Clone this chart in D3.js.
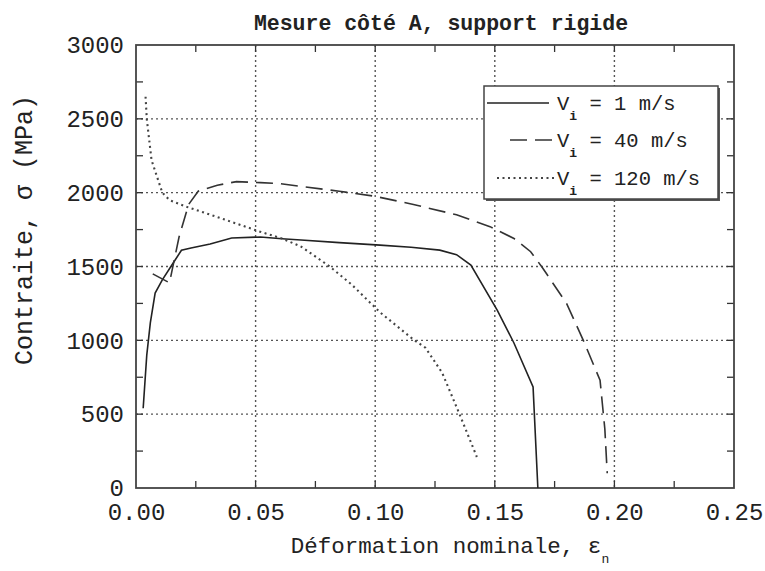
<!DOCTYPE html>
<html>
<head>
<meta charset="utf-8">
<script src="https://cdn.jsdelivr.net/npm/d3@7"></script>
<style>
  body { margin: 0; background: #fff; }
  text { font-family: "Liberation Mono", "Courier New", monospace; fill: #222; }
</style>
</head>
<body>
<div id="main"></div>
<script>
// strain (nominal) / stress (MPa)
var v1 = [[0.003, 540], [0.0045, 900], [0.006, 1120], [0.008, 1320], [0.011, 1410], [0.015, 1510],
          [0.019, 1610], [0.023, 1625], [0.031, 1652], [0.040, 1693], [0.052, 1700], [0.061, 1688],
          [0.069, 1679], [0.085, 1662], [0.102, 1645], [0.115, 1630], [0.127, 1611], [0.134, 1580],
          [0.140, 1510], [0.151, 1205], [0.158, 982], [0.166, 684], [0.168, 0]];
var v40 = [[0.007, 1450], [0.014, 1390], [0.018, 1700], [0.022, 1920], [0.026, 2010], [0.034, 2050],
           [0.042, 2075], [0.052, 2068], [0.060, 2062], [0.070, 2040], [0.085, 2010], [0.100, 1975],
           [0.116, 1920], [0.134, 1850], [0.148, 1770], [0.158, 1690], [0.165, 1600], [0.170, 1490],
           [0.180, 1250], [0.187, 1000], [0.194, 730], [0.196, 400], [0.197, 100]];
var v120 = [[0.004, 2650], [0.0045, 2500], [0.0065, 2220], [0.011, 2000], [0.014, 1950], [0.021, 1905],
            [0.034, 1835], [0.052, 1735], [0.061, 1690], [0.069, 1635], [0.081, 1500], [0.090, 1380],
            [0.102, 1190], [0.116, 1005], [0.121, 950], [0.128, 780], [0.135, 510], [0.1425, 210]];

var xTicks = [0, 0.05, 0.10, 0.15, 0.20, 0.25];
var xMinor = [0.025, 0.075, 0.125, 0.175, 0.225];
var yTicks = [0, 500, 1000, 1500, 2000, 2500, 3000];
var yMinor = [250, 750, 1250, 1750, 2250, 2750];
var speeds = ["1", "40", "120"];

var margin = {top: 45, right: 31, bottom: 83, left: 136},
    width = 765 - margin.left - margin.right,
    height = 571 - margin.top - margin.bottom;

var svg = d3.select("#main")
    .append("svg")
    .attr("width", 765)
    .attr("height", 571);

var g = svg.append("g")
    .attr("transform", "translate(" + margin.left + "," + margin.top + ")");

var x = d3.scaleLinear().domain([0, 0.25]).range([0, width]);
var y = d3.scaleLinear().domain([0, 3000]).range([height, 0]);

// dotted grid
g.selectAll("line.gx")
    .data(xTicks.slice(1, -1))
    .enter().append("line")
    .attr("class", "gx")
    .attr("x1", function(d) { return x(d); })
    .attr("x2", function(d) { return x(d); })
    .attr("y1", 0).attr("y2", height)
    .attr("stroke", "#555").attr("stroke-width", 1.4)
    .attr("stroke-dasharray", "2,3");

g.selectAll("line.gy")
    .data(yTicks.slice(1, -1))
    .enter().append("line")
    .attr("class", "gy")
    .attr("y1", function(d) { return y(d); })
    .attr("y2", function(d) { return y(d); })
    .attr("x1", 0).attr("x2", width)
    .attr("stroke", "#555").attr("stroke-width", 1.4)
    .attr("stroke-dasharray", "2,3");

// axes, ticks inward on all sides
var allX = xTicks.concat(xMinor), allY = yTicks.concat(yMinor);

g.append("g")
    .attr("transform", "translate(0," + height + ")")
    .call(d3.axisBottom(x).tickValues(xTicks).tickSize(0).tickPadding(15)
        .tickFormat(d3.format(".2f")));
g.append("g")
    .call(d3.axisLeft(y).tickValues(yTicks).tickSize(0).tickPadding(12)
        .tickFormat(d3.format("d")));

g.selectAll(".tick text")
    .style("font-size", "24px")
    .style("font-family", "'Liberation Mono', monospace")
    .attr("fill", "#222");
g.selectAll(".domain").remove();

var tl = 7;
[[allX, "b"], [allX, "t"], [allY, "l"], [allY, "r"]].forEach(function(s) {
    g.selectAll("line.t" + s[1])
        .data(s[0].filter(function(d) { return d > 0 && d < (s[1] == "b" || s[1] == "t" ? 0.25 : 3000); }))
        .enter().append("line")
        .attr("class", "t" + s[1])
        .attr("stroke", "#333").attr("stroke-width", 1.3)
        .each(function(d) {
            var l = d3.select(this);
            if (s[1] == "b") l.attr("x1", x(d)).attr("x2", x(d)).attr("y1", height).attr("y2", height - tl);
            if (s[1] == "t") l.attr("x1", x(d)).attr("x2", x(d)).attr("y1", 0).attr("y2", tl);
            if (s[1] == "l") l.attr("y1", y(d)).attr("y2", y(d)).attr("x1", 0).attr("x2", tl);
            if (s[1] == "r") l.attr("y1", y(d)).attr("y2", y(d)).attr("x1", width).attr("x2", width - tl);
        });
});

g.append("rect")
    .attr("width", width).attr("height", height)
    .attr("fill", "none").attr("stroke", "#444").attr("stroke-width", 1.8);

// curves
var line = d3.line()
    .x(function(d) { return x(d[0]); })
    .y(function(d) { return y(d[1]); });

var styles = [
    {data: v1, dash: null, w: 1.6, c: "#222"},
    {data: v40, dash: "17,8", w: 1.6, c: "#333"},
    {data: v120, dash: "2,3.5", w: 2.1, c: "#444"}
];

styles.forEach(function(s) {
    g.append("path")
        .datum(s.data)
        .attr("d", line)
        .attr("fill", "none")
        .attr("stroke", s.c)
        .attr("stroke-width", s.w)
        .attr("stroke-dasharray", s.dash);
});

// legend
var lx = 484, ly = 86, lw = 234, lh = 113;
svg.append("rect")
    .attr("x", lx + 2).attr("y", ly + 2).attr("width", lw).attr("height", lh)
    .attr("fill", "#555");
svg.append("rect")
    .attr("x", lx).attr("y", ly).attr("width", lw).attr("height", lh)
    .attr("fill", "#fff").attr("stroke", "#444").attr("stroke-width", 1.5);

var rowY = [103, 140, 178];
var sampleX = [[487, 549], [510, 553], [497, 555]];
speeds.forEach(function(sp, i) {
    svg.append("line")
        .attr("x1", sampleX[i][0]).attr("x2", sampleX[i][1])
        .attr("y1", rowY[i]).attr("y2", rowY[i])
        .attr("stroke", styles[i].c)
        .attr("stroke-width", styles[i].w)
        .attr("stroke-dasharray", styles[i].dash);
    var t = svg.append("text")
        .attr("x", 557).attr("y", rowY[i] + 7)
        .style("font-size", "20.5px");
    t.append("tspan").text("V");
    t.append("tspan").attr("dy", 10).style("font-size", "13px").style("font-weight", "bold").text("i");
    t.append("tspan").attr("dy", -10).text(" = " + sp + " m/s");
});

// titles
svg.append("text")
    .attr("x", 441).attr("y", 30)
    .attr("text-anchor", "middle")
    .style("font-size", "21.5px").style("font-weight", "bold")
    .text("Mesure côté A, support rigide");

var xt = svg.append("text")
    .attr("x", 450).attr("y", 553)
    .attr("text-anchor", "middle")
    .style("font-size", "22.5px");
xt.append("tspan").text("Déformation nominale, ε");
xt.append("tspan").attr("dy", 10).style("font-size", "13px").text("n");

svg.append("text")
    .attr("transform", "translate(32,230) rotate(-90)")
    .attr("text-anchor", "middle")
    .style("font-size", "25px")
    .text("Contraite, σ (MPa)");
</script>
</body>
</html>
